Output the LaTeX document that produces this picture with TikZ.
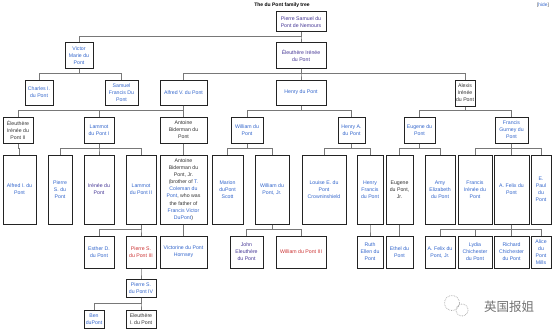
\documentclass[tikz,border=0pt]{standalone}
\usepackage{fontspec}
\setmainfont{Liberation Sans}
\newfontfamily\cjk{Noto Sans CJK SC}
\usepackage{tikz}
\usetikzlibrary{positioning}
\usepackage{xcolor}
\definecolor{wikilink}{RGB}{51,102,204}
\definecolor{wikivisit}{RGB}{70,55,150}
\definecolor{wikired}{RGB}{204,51,51}
\definecolor{stemgray}{RGB}{120,120,120}
\definecolor{boxline}{RGB}{35,35,35}

\begin{document}
\begin{tikzpicture}[x=1pt,y=-1pt,
  person/.style={draw=boxline,line width=1pt,fill=white,inner sep=0pt,align=center,
    text=black!80,font=\fontsize{5.2}{7.1}\selectfont},
  sz/.style 2 args={minimum width=#1pt,minimum height=#2pt},
  lnk/.style={text=wikilink},
  vis/.style={text=wikivisit},
  redlnk/.style={text=wikired},
  kinline/.style={draw=stemgray,line width=0.7pt}]
\useasboundingbox[fill=white] (0,0) rectangle (553,329);
\node[font=\fontsize{5}{6}\selectfont\bfseries] (title) at (282,5) {The du Pont family tree};
\node[font=\fontsize{4.8}{6}\selectfont,text=black!70] (hide) at (543,5) {[\textcolor{wikilink}{hide}]};
% generation 1 and 2
\node[person,vis,sz={50}{20}] (pierre) at (301,22) {Pierre Samuel du\\Pont de Nemours};
\node[person,lnk,sz={28}{25}] (victor) at (79,55.5) {Victor\\Marie du\\Pont};
\node[person,vis,sz={50}{25}] (eleu) at (301,55.5) {Éleuthère Irénée\\du Pont};
% generation 3
\node[person,lnk,sz={28}{25}] (charles) at (39,92.5) {Charles I.\\du Pont};
\node[person,lnk,sz={33}{25}] (samuel) at (121.5,92.5) {Samuel\\Francis Du\\Pont};
\node[person,lnk,sz={47}{25}] (alfredv) at (183.5,92.5) {Alfred V. du Pont};
\node[person,lnk,sz={50}{25}] (henry) at (301,92.5) {Henry du Pont};
\node[person,sz={20}{26}] (alexis) at (465,93) {Alexis\\Irénée\\du Pont};
% generation 4
\node[person,sz={30}{26}] (eleutwo) at (18,130) {Éleuthère\\Irénée du\\Pont II};
\node[person,lnk,sz={30}{26}] (lammot) at (99,130) {Lammot\\du Pont I};
\node[person,sz={47}{26}] (antoine) at (183.5,130) {Antoine\\Biderman du\\Pont};
\node[person,lnk,sz={32}{26}] (william) at (247,130) {William du\\Pont};
\node[person,lnk,sz={27}{26}] (henrya) at (351.5,130) {Henry A.\\du Pont};
\node[person,lnk,sz={31}{26}] (eugene) at (419.5,130) {Eugene du\\Pont};
\node[person,lnk,sz={33}{26}] (francisg) at (511.5,130) {Francis\\Gurney du\\Pont};
% generation 5
\node[person,lnk,sz={33}{69}] (alfredi) at (19.5,189.5) {Alfred I. du\\Pont};
\node[person,lnk,sz={24}{69}] (pierres) at (60,189.5) {Pierre\\S. du\\Pont};
\node[person,vis,sz={30}{69}] (irenee) at (99,189.5) {Irénée du\\Pont};
\node[person,lnk,sz={30}{69}] (lammottwo) at (141,189.5) {Lammot\\du Pont II};
\node[person,sz={47}{69}] (antoinejr) at (183.5,189.5) {Antoine\\Biderman du\\Pont, Jr.\\(brother of \textcolor{wikilink}{T.}\\\textcolor{wikilink}{Coleman du}\\\textcolor{wikilink}{Pont}, who was\\the father of\\\textcolor{wikilink}{Francis Victor}\\\textcolor{wikilink}{DuPont})};
\node[person,lnk,sz={31}{69}] (marion) at (227.5,189.5) {Marion\\duPont\\Scott};
\node[person,lnk,sz={34}{69}] (williamjr) at (272,189.5) {William du\\Pont, Jr.};
\node[person,lnk,sz={44}{69}] (louise) at (324,189.5) {Louise E. du\\Pont\\Crowninshield};
\node[person,lnk,sz={26}{69}] (henryf) at (370,189.5) {Henry\\Francis\\du Pont};
\node[person,sz={27}{69}] (eugenejr) at (399.5,189.5) {Eugene\\du Pont,\\Jr.};
\node[person,lnk,sz={30}{69}] (amy) at (440,189.5) {Amy\\Elizabeth\\du Pont};
\node[person,lnk,sz={34}{69}] (francisi) at (475,189.5) {Francis\\Irénée du\\Pont};
\node[person,lnk,sz={35}{69}] (felix) at (511.5,189.5) {A. Felix du\\Pont};
\node[person,lnk,sz={20}{69}] (paul) at (541,189.5) {E.\\Paul\\du\\Pont};
% generation 6
\node[person,lnk,sz={30}{32}] (esther) at (99,252) {Esther D.\\du Pont};
\node[person,redlnk,sz={30}{32}] (pierrethree) at (141,252) {Pierre S.\\du Pont III};
\node[person,lnk,sz={47}{32}] (victorine) at (183.5,252) {Victorine du Pont\\Hornsey};
\node[person,vis,sz={33}{32}] (john) at (246.5,252) {John\\Eleuthère\\du Pont};
\node[person,redlnk,sz={50}{32}] (williamthree) at (301,252) {William du Pont III};
\node[person,lnk,sz={26}{32}] (ruth) at (370,252) {Ruth\\Ellen du\\Pont};
\node[person,lnk,sz={27}{32}] (ethel) at (399.5,252) {Ethel du\\Pont};
\node[person,lnk,sz={30}{32}] (felixjr) at (440,252) {A. Felix du\\Pont, Jr.};
\node[person,lnk,sz={34}{32}] (lydia) at (475,252) {Lydia\\Chichester\\du Pont};
\node[person,lnk,sz={35}{32}] (richard) at (511.5,252) {Richard\\Chichester\\du Pont};
\node[person,lnk,sz={20}{32}] (alice) at (541,252) {Alice\\du\\Pont\\Mills};
% generation 7 and 8
\node[person,lnk,sz={30}{18}] (pierrefour) at (141,288) {Pierre S.\\du Pont IV};
\node[person,lnk,sz={20}{18}] (ben) at (94,319) {Ben\\duPont};
\node[person,sz={30}{18}] (eleuI) at (141,319) {Eleuthère\\I. du Pont};
% lines of descent
\foreach \p/\c in {pierre/victor,pierre/eleu,
    victor/charles,victor/samuel,eleu/alfredv,eleu/henry,eleu/alexis,
    alfredv/eleutwo,alfredv/lammot,alfredv/antoine,henry/william,henry/henrya,alexis/eugene,alexis/francisg,
    eleutwo/alfredi,lammot/pierres,lammot/irenee,lammot/lammottwo,antoine/antoinejr,
    william/marion,william/williamjr,henrya/louise,henrya/henryf,eugene/eugenejr,eugene/amy,
    francisg/francisi,francisg/felix,francisg/paul,
    lammottwo/esther,lammottwo/pierrethree,antoinejr/victorine,williamjr/john,williamjr/williamthree,
    henryf/ruth,eugenejr/ethel,felix/felixjr,felix/lydia,felix/richard,felix/alice,
    pierrethree/pierrefour,pierrefour/ben,pierrefour/eleuI}
  \draw[kinline] (\p.south) |- ([yshift=6pt]\c.north) -- (\c.north);
% watermark
\draw[black!35,densely dotted,line width=0.7pt] (452,303) circle (7.5);
\draw[black!35,densely dotted,line width=0.7pt] (462,310) circle (6);
\node[text=black!55,font=\cjk\fontsize{12.5}{13}\selectfont] (mark) at (509,307) {英国报姐};
\end{tikzpicture}
\end{document}
